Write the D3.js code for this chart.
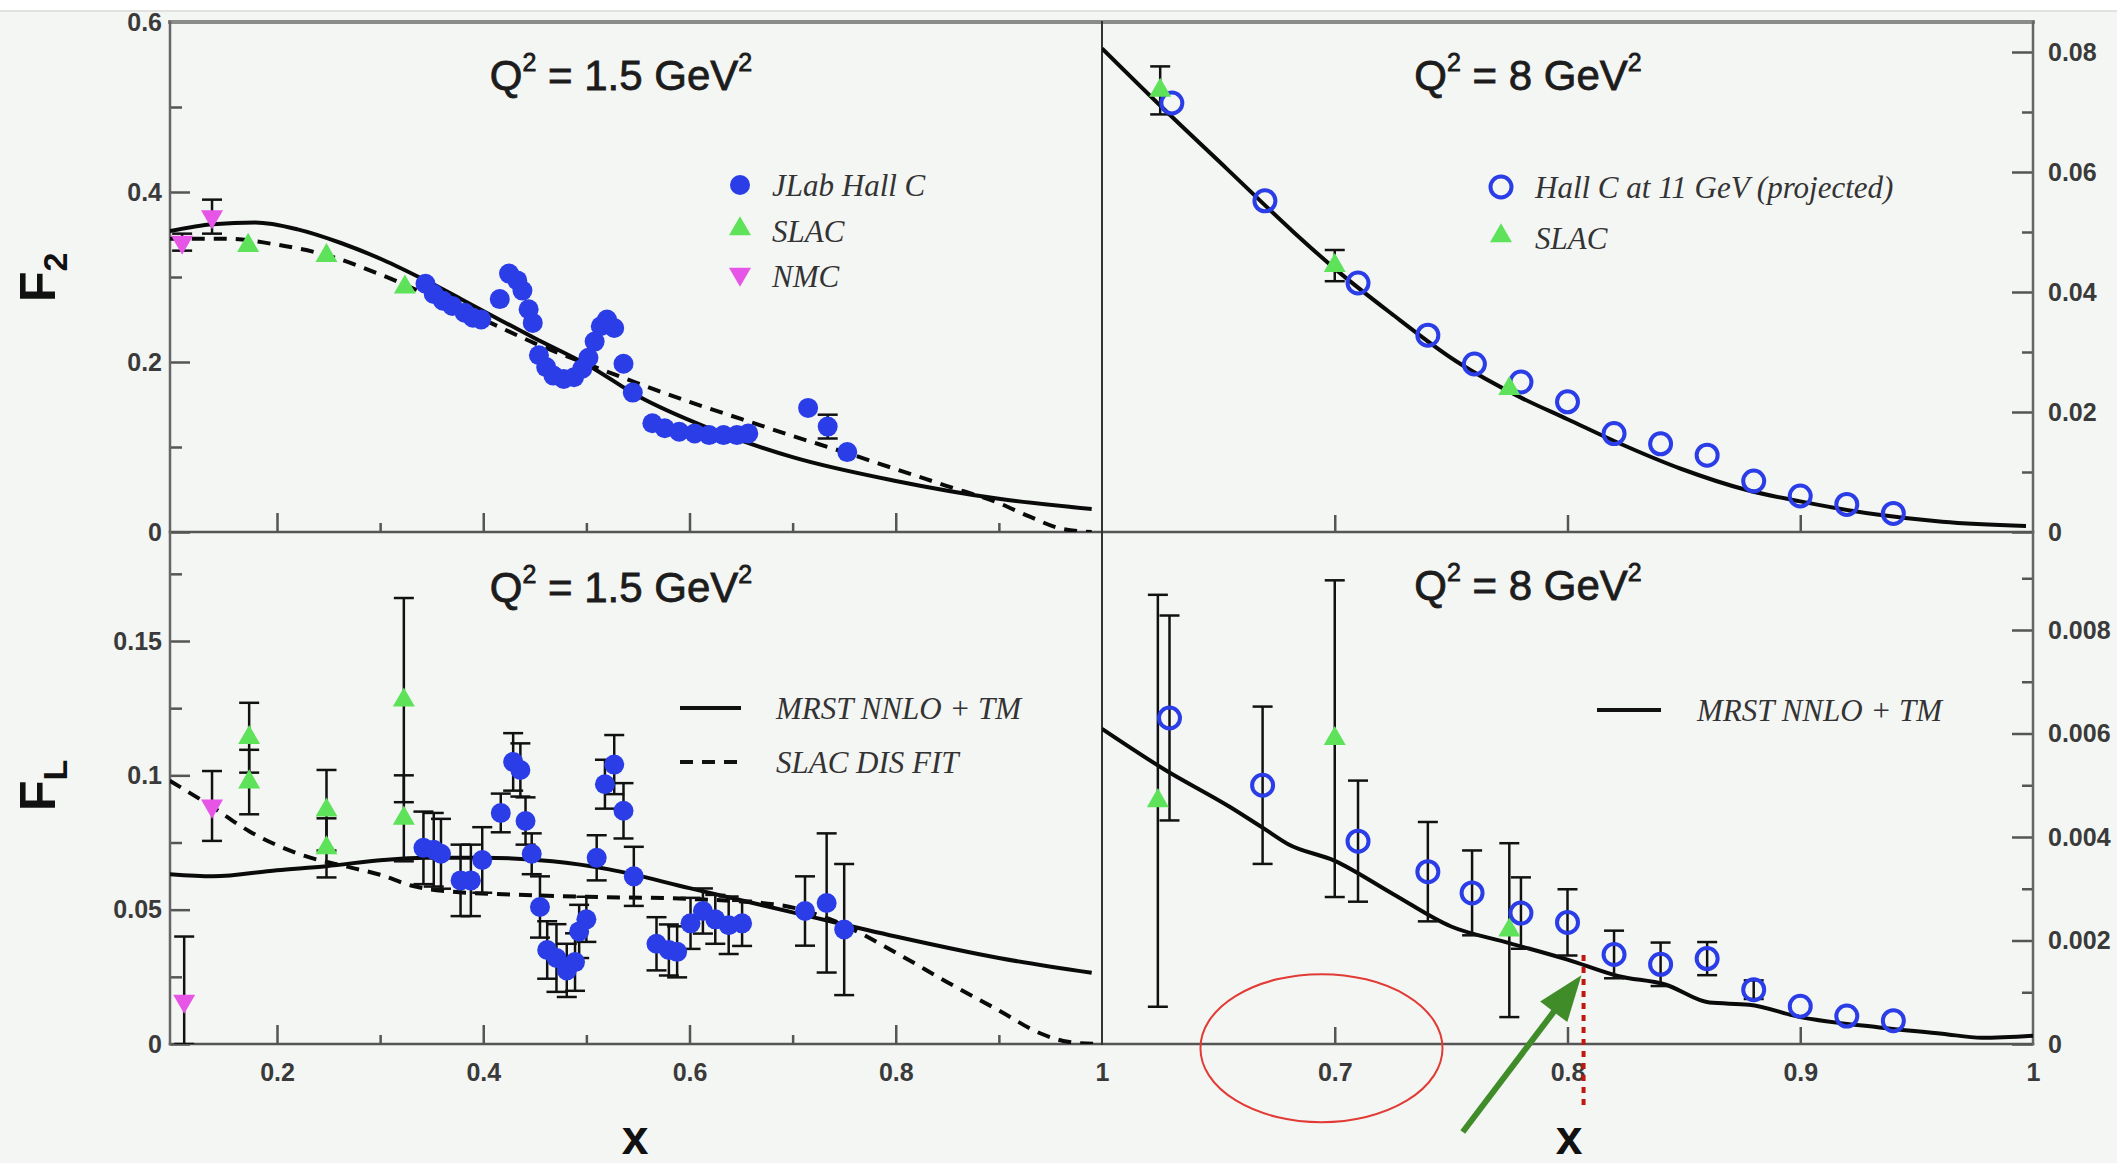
<!DOCTYPE html>
<html>
<head>
<meta charset="utf-8">
<title>F2 and FL versus x</title>
<script src="https://cdn.jsdelivr.net/npm/d3@7"></script>
<style>
  body { margin: 0; background: #f4f6f4; }
  svg { display: block; }
  .tick text { font-family: "Liberation Sans", Arial, sans-serif; font-weight: bold; font-size: 25px; fill: #3a3a3a; }
  .tick line { stroke: #555; stroke-width: 2.5; }
  .legend { font-family: "Liberation Serif", "Times New Roman", serif; font-style: italic; font-size: 31px; fill: #333; }
  .title { font-family: "Liberation Sans", Arial, sans-serif; font-size: 42px; fill: #1c1c1c; stroke: #1c1c1c; stroke-width: 0.8; }
  .axis-title { font-family: "Liberation Sans", Arial, sans-serif; font-weight: bold; fill: #111; }
</style>
</head>
<body>
<div id="chart"></div>
<script>
// ---- data: [x, value, error] ----
// F2, Q2 = 1.5 GeV2
const nmcF2 = [[0.108, 0.341, 0.010], [0.137, 0.371, 0.020]];
const slacF2lo = [[0.172, 0.337, 0], [0.248, 0.325, 0], [0.324, 0.288, 0]];
const jlabF2 = [
  [0.344, 0.292], [0.352, 0.280], [0.361, 0.272], [0.370, 0.266], [0.382, 0.258], [0.390, 0.252],
  [0.398, 0.250], [0.416, 0.274], [0.425, 0.304], [0.433, 0.296], [0.438, 0.284], [0.444, 0.262],
  [0.448, 0.246], [0.454, 0.208], [0.461, 0.194], [0.468, 0.184], [0.478, 0.180], [0.488, 0.182],
  [0.496, 0.192], [0.502, 0.205], [0.508, 0.224], [0.514, 0.242], [0.520, 0.250], [0.527, 0.240],
  [0.536, 0.198], [0.545, 0.164], [0.564, 0.128], [0.576, 0.122], [0.590, 0.118], [0.605, 0.116],
  [0.619, 0.114], [0.633, 0.114], [0.646, 0.114], [0.657, 0.116], [0.715, 0.146], [0.734, 0.124, 0.014],
  [0.753, 0.094]
];
const mrstF2lo = [[0.096, 0.354], [0.138, 0.362], [0.179, 0.364], [0.22, 0.356], [0.262, 0.340], [0.303, 0.320],
  [0.344, 0.296], [0.4, 0.260], [0.45, 0.228], [0.502, 0.196], [0.55, 0.160], [0.619, 0.122], [0.7, 0.088],
  [0.8, 0.060], [0.9, 0.039], [0.99, 0.027]];
const slacFitF2lo = [[0.096, 0.345], [0.15, 0.345], [0.2, 0.338], [0.25, 0.325], [0.3, 0.303], [0.35, 0.277],
  [0.4, 0.250], [0.45, 0.222], [0.5, 0.198], [0.55, 0.175], [0.6, 0.153], [0.65, 0.133], [0.7, 0.113],
  [0.75, 0.094], [0.8, 0.074], [0.85, 0.054], [0.9, 0.034], [0.93, 0.018], [0.96, 0.004], [0.99, 0.0]];

// F2, Q2 = 8 GeV2
const hallF2 = [[0.630, 0.0715], [0.670, 0.0552], [0.710, 0.0415], [0.740, 0.0328], [0.760, 0.0280],
  [0.780, 0.0250], [0.800, 0.0217], [0.820, 0.0164], [0.840, 0.0147], [0.860, 0.0128], [0.880, 0.0085],
  [0.900, 0.0060], [0.920, 0.0046], [0.940, 0.0031]];
const slacF2hi = [[0.625, 0.0736, 0.004], [0.700, 0.0444, 0.0026], [0.775, 0.0239, 0]];
const mrstF2hi = [[0.6, 0.0806], [0.626, 0.0707], [0.654, 0.0604], [0.682, 0.0501], [0.70, 0.0439],
  [0.724, 0.0365], [0.752, 0.0285], [0.78, 0.0224], [0.80, 0.0188], [0.821, 0.0150], [0.849, 0.0105],
  [0.877, 0.0070], [0.9, 0.0051], [0.933, 0.0029], [0.961, 0.0017], [0.997, 0.0010]];

// FL, Q2 = 1.5 GeV2
const nmcFL = [[0.110, 0.016, 0.024], [0.137, 0.0886, 0.013]];
const slacFLlo = [[0.173, 0.114, 0.013], [0.173, 0.0975, 0.012], [0.248, 0.087, 0.015], [0.248, 0.073, 0.011],
  [0.323, 0.128, 0.038], [0.323, 0.084, 0.016]];
const jlabFL = [
  [0.342, 0.0730, 0.0135], [0.352, 0.0723, 0.0137], [0.359, 0.0708, 0.0130], [0.378, 0.0609, 0.0133],
  [0.388, 0.0609, 0.0133], [0.399, 0.0685, 0.0122], [0.417, 0.0860, 0.0072], [0.429, 0.1050, 0.0107],
  [0.436, 0.1020, 0.0099], [0.441, 0.0830, 0.0088], [0.447, 0.0708, 0.0076], [0.455, 0.0510, 0.0114],
  [0.462, 0.0350, 0.0107], [0.471, 0.0320, 0.0126], [0.481, 0.0274, 0.0099], [0.489, 0.0305, 0.0107],
  [0.493, 0.0419, 0.0099], [0.500, 0.0464, 0.0084], [0.510, 0.0693, 0.0084], [0.518, 0.0967, 0.0091],
  [0.527, 0.1040, 0.0110], [0.536, 0.0868, 0.0103], [0.546, 0.0624, 0.0110], [0.568, 0.0373, 0.0099],
  [0.580, 0.0350, 0.0095], [0.588, 0.0343, 0.0095], [0.601, 0.0449, 0.0095], [0.613, 0.0495, 0.0084],
  [0.625, 0.0464, 0.0091], [0.638, 0.0442, 0.0107], [0.651, 0.0449, 0.0084], [0.712, 0.0495, 0.0129],
  [0.733, 0.0525, 0.0259], [0.750, 0.0426, 0.0244]
];
const mrstFLlo = [[0.096, 0.0632], [0.138, 0.0624], [0.2, 0.0647], [0.248, 0.0662], [0.303, 0.0685],
  [0.344, 0.0693], [0.4, 0.0693], [0.467, 0.0680], [0.522, 0.0650], [0.6, 0.0580], [0.7, 0.0490],
  [0.8, 0.0400], [0.9, 0.0320], [0.99, 0.0265]];
const slacFitFLlo = [[0.096, 0.098], [0.137, 0.0883], [0.173, 0.0792], [0.227, 0.070], [0.268, 0.066],
  [0.3, 0.063], [0.33, 0.059], [0.36, 0.057], [0.43, 0.0556], [0.5, 0.0548], [0.6, 0.0540], [0.686, 0.0518],
  [0.741, 0.0457], [0.8, 0.0340], [0.85, 0.0230], [0.9, 0.0125], [0.94, 0.0040], [0.967, 0.0008], [0.995, 0.0]];

// FL, Q2 = 8 GeV2
const hallFL = [[0.629, 0.0063, 0.00198], [0.669, 0.0050, 0.00152], [0.710, 0.00392, 0.00117],
  [0.740, 0.00333, 0.00096], [0.759, 0.00292, 0.00082], [0.780, 0.00253, 0.00069], [0.800, 0.00235, 0.00064],
  [0.820, 0.00173, 0.00046], [0.840, 0.00154, 0.00042], [0.860, 0.00165, 0.00032], [0.880, 0.00105, 0.00018],
  [0.900, 0.00073, 0], [0.920, 0.00054, 0], [0.940, 0.00045, 0]];
const slacFLhi = [[0.624, 0.0047, 0.00398], [0.700, 0.0059, 0.00306], [0.775, 0.0022, 0.00168]];
const mrstFLhi = [[0.6, 0.00609], [0.627, 0.0053], [0.655, 0.00458], [0.669, 0.00418], [0.68, 0.00386],
  [0.7, 0.00354], [0.725, 0.0029], [0.75, 0.00227], [0.775, 0.00195], [0.8, 0.00163], [0.822, 0.00131],
  [0.842, 0.00115], [0.861, 0.0008], [0.878, 0.00076], [0.9, 0.00052], [0.934, 0.00032], [0.961, 0.0002],
  [0.978, 0.00012], [1.0, 0.00016]];

// tick values
const xTicksLeft = [0.2, 0.4, 0.6, 0.8, 1];
const xMinorLeft = [0.3, 0.5, 0.7, 0.9];
const xTicksRight = [0.7, 0.8, 0.9, 1];
const yTicksF2lo = [0, 0.2, 0.4, 0.6];
const yMinorF2lo = [0.1, 0.3, 0.5];
const yTicksFLlo = [0, 0.05, 0.1, 0.15];
const yMinorFLlo = [0.025, 0.075, 0.125, 0.175];
const yTicksF2hi = [0, 0.02, 0.04, 0.06, 0.08];
const yMinorF2hi = [0.01, 0.03, 0.05, 0.07];
const yTicksFLhi = [0, 0.002, 0.004, 0.006, 0.008];
const yMinorFLhi = [0.001, 0.003, 0.005, 0.007, 0.009];

const W = 2117, H = 1163;
const xLeft = 170, xMid = 1102, xRight = 2033, yTop = 22, yMid = 532, yBottom = 1044;
const BLUE = "#2a3de6", GREEN = "#5ee25a", MAGENTA = "#e655e6";

const svg = d3.select("#chart").append("svg").attr("width", W).attr("height", H);
svg.append("rect").attr("width", W).attr("height", H).attr("fill", "#f4f6f4");
svg.append("rect").attr("width", W).attr("height", 10).attr("fill", "#ffffff");
svg.append("line").attr("x1", 0).attr("x2", W).attr("y1", 11).attr("y2", 11)
  .attr("stroke", "#dfe2df").attr("stroke-width", 2);

const xL = d3.scaleLinear().domain([0.2, 1]).range([277, xMid]);
const xR = d3.scaleLinear().domain([0.6, 1]).range([xMid, xRight]);
const yF2lo = d3.scaleLinear().domain([0, 0.6]).range([yMid, yTop]);
const yF2hi = d3.scaleLinear().domain([0, 0.08]).range([yMid, 52]);
const yFLlo = d3.scaleLinear().domain([0, 0.15]).range([yBottom, 641]);
const yFLhi = d3.scaleLinear().domain([0, 0.008]).range([yBottom, 630]);

const fmt = d3.format("~g");
const clean = g => g.select(".domain").remove();

// ---- axes ----
function axis(gen, tx, ty) {
  return svg.append("g").attr("transform", `translate(${tx},${ty})`).call(gen).call(clean);
}
// left y axes, ticks inward
axis(d3.axisLeft(yF2lo).tickValues(yTicksF2lo).tickSize(-20).tickPadding(8).tickFormat(fmt), xLeft, 0);
axis(d3.axisLeft(yF2lo).tickValues(yMinorF2lo).tickSize(-12).tickFormat(""), xLeft, 0);
axis(d3.axisLeft(yFLlo).tickValues(yTicksFLlo).tickSize(-20).tickPadding(8).tickFormat(fmt), xLeft, 0);
axis(d3.axisLeft(yFLlo).tickValues(yMinorFLlo).tickSize(-12).tickFormat(""), xLeft, 0);
// right y axes
axis(d3.axisRight(yF2hi).tickValues(yTicksF2hi).tickSize(-21).tickPadding(15).tickFormat(fmt), xRight, 0);
axis(d3.axisRight(yF2hi).tickValues(yMinorF2hi).tickSize(-11).tickFormat(""), xRight, 0);
axis(d3.axisRight(yFLhi).tickValues(yTicksFLhi).tickSize(-21).tickPadding(15).tickFormat(fmt), xRight, 0);
axis(d3.axisRight(yFLhi).tickValues(yMinorFLhi).tickSize(-11).tickFormat(""), xRight, 0);
// x axes: middle line (no labels) and bottom line
axis(d3.axisBottom(xL).tickValues([0.2, 0.4, 0.6, 0.8]).tickSize(-19).tickFormat(""), 0, yMid);
axis(d3.axisBottom(xL).tickValues(xMinorLeft).tickSize(-9).tickFormat(""), 0, yMid);
axis(d3.axisBottom(xR).tickValues([0.7, 0.8, 0.9]).tickSize(-17).tickFormat(""), 0, yMid);
const bl = axis(d3.axisBottom(xL).tickValues(xTicksLeft).tickSize(-19).tickPadding(19).tickFormat(fmt), 0, yBottom);
axis(d3.axisBottom(xL).tickValues(xMinorLeft).tickSize(-9).tickFormat(""), 0, yBottom);
const br = axis(d3.axisBottom(xR).tickValues(xTicksRight).tickSize(-17).tickPadding(19).tickFormat(fmt), 0, yBottom);
bl.selectAll(".tick").filter(d => d === 1).select("line").remove();
br.selectAll(".tick").filter(d => d === 1).select("line").remove();

// ---- frame ----
const frame = svg.append("g").attr("stroke-linecap", "square");
frame.append("line").attr("x1", xLeft).attr("x2", xRight).attr("y1", yTop).attr("y2", yTop)
  .attr("stroke", "#8a8c8a").attr("stroke-width", 4);
[[xLeft, yMid, xRight, yMid], [xLeft, yBottom, xRight, yBottom]].forEach(d =>
  frame.append("line").attr("x1", d[0]).attr("y1", d[1]).attr("x2", d[2]).attr("y2", d[3])
    .attr("stroke", "#555").attr("stroke-width", 2.5));
[xLeft, xMid, xRight].forEach(x =>
  frame.append("line").attr("x1", x).attr("x2", x).attr("y1", yTop).attr("y2", yBottom)
    .attr("stroke", x === xMid ? "#333" : "#666").attr("stroke-width", x === xMid ? 2 : 2.5));

// ---- clip regions ----
const defs = svg.append("defs");
function clip(id, x0, y0, x1, y1) {
  defs.append("clipPath").attr("id", id).append("rect")
    .attr("x", x0).attr("y", y0).attr("width", x1 - x0).attr("height", y1 - y0);
  return svg.append("g").attr("clip-path", `url(#${id})`);
}
const pTL = clip("cTL", xLeft, yTop, xMid, yMid);
const pTR = clip("cTR", xMid, yTop, xRight, yMid);
const pBL = clip("cBL", xLeft, yMid, xMid, yBottom);
const pBR = clip("cBR", xMid, yMid, xRight, yBottom);

function curve(g, data, xs, ys, dashed) {
  g.append("path").datum(data)
    .attr("d", d3.line().x(d => xs(d[0])).y(d => ys(d[1])).curve(d3.curveMonotoneX))
    .attr("fill", "none").attr("stroke", "#0a0a0a").attr("stroke-width", 4)
    .attr("stroke-dasharray", dashed ? "13,9" : null);
}
function errors(g, data, xs, ys) {
  const e = g.append("g").attr("stroke", "#111").attr("stroke-width", 2.5);
  data.filter(d => d[2] > 0).forEach(d => {
    const x = xs(d[0]), y1 = ys(Math.max(0, d[1] - d[2])), y2 = ys(d[1] + d[2]);
    e.append("line").attr("x1", x).attr("x2", x).attr("y1", y1).attr("y2", y2);
    e.append("line").attr("x1", x - 10).attr("x2", x + 10).attr("y1", y1).attr("y2", y1);
    e.append("line").attr("x1", x - 10).attr("x2", x + 10).attr("y1", y2).attr("y2", y2);
  });
}
const tri = d3.symbol().type(d3.symbolTriangle).size(210);
function triangles(g, data, xs, ys, color, down) {
  g.append("g").selectAll("path").data(data).join("path")
    .attr("d", tri)
    .attr("transform", d => `translate(${xs(d[0])},${ys(d[1])})${down ? " rotate(180)" : ""}`)
    .attr("fill", color);
}
function dots(g, data, xs, ys) {
  g.append("g").selectAll("circle").data(data).join("circle")
    .attr("cx", d => xs(d[0])).attr("cy", d => ys(d[1])).attr("r", 10).attr("fill", BLUE);
}
function rings(g, data, xs, ys) {
  g.append("g").selectAll("circle").data(data).join("circle")
    .attr("cx", d => xs(d[0])).attr("cy", d => ys(d[1])).attr("r", 10.5)
    .attr("fill", "none").attr("stroke", BLUE).attr("stroke-width", 4);
}

// top left: F2 at 1.5 GeV2
curve(pTL, slacFitF2lo, xL, yF2lo, true);
curve(pTL, mrstF2lo, xL, yF2lo, false);
errors(pTL, nmcF2, xL, yF2lo);
errors(pTL, jlabF2, xL, yF2lo);
dots(pTL, jlabF2, xL, yF2lo);
triangles(pTL, slacF2lo, xL, yF2lo, GREEN, false);
triangles(pTL, nmcF2, xL, yF2lo, MAGENTA, true);

// top right: F2 at 8 GeV2
curve(pTR, mrstF2hi, xR, yF2hi, false);
errors(pTR, slacF2hi, xR, yF2hi);
rings(pTR, hallF2, xR, yF2hi);
triangles(pTR, slacF2hi, xR, yF2hi, GREEN, false);

// bottom left: FL at 1.5 GeV2
curve(pBL, slacFitFLlo, xL, yFLlo, true);
curve(pBL, mrstFLlo, xL, yFLlo, false);
errors(pBL, nmcFL, xL, yFLlo);
errors(pBL, slacFLlo, xL, yFLlo);
errors(pBL, jlabFL, xL, yFLlo);
dots(pBL, jlabFL, xL, yFLlo);
triangles(pBL, slacFLlo, xL, yFLlo, GREEN, false);
triangles(pBL, nmcFL, xL, yFLlo, MAGENTA, true);

// bottom right: FL at 8 GeV2
curve(pBR, mrstFLhi, xR, yFLhi, false);
errors(pBR, slacFLhi, xR, yFLhi);
errors(pBR, hallFL, xR, yFLhi);
rings(pBR, hallFL, xR, yFLhi);
triangles(pBR, slacFLhi, xR, yFLhi, GREEN, false);

// ---- titles ----
function qTitle(x, y, val) {
  const t = svg.append("text").attr("class", "title").attr("x", x).attr("y", y).attr("text-anchor", "middle");
  t.append("tspan").text("Q");
  t.append("tspan").attr("font-size", 25).attr("dy", -19).text("2");
  t.append("tspan").attr("dy", 19).text(` = ${val} GeV`);
  t.append("tspan").attr("font-size", 25).attr("dy", -19).text("2");
}
qTitle(621, 90, "1.5");
qTitle(1528, 90, "8");
qTitle(621, 602, "1.5");
qTitle(1528, 600, "8");

// ---- legends ----
function legText(x, y, s) {
  svg.append("text").attr("class", "legend").attr("x", x).attr("y", y).attr("dy", "0.35em").text(s);
}
svg.append("circle").attr("cx", 740).attr("cy", 185).attr("r", 10).attr("fill", BLUE);
legText(772, 185, "JLab Hall C");
svg.append("path").attr("d", tri).attr("transform", "translate(740,229)").attr("fill", GREEN);
legText(772, 231, "SLAC");
svg.append("path").attr("d", tri).attr("transform", "translate(740,274) rotate(180)").attr("fill", MAGENTA);
legText(772, 276, "NMC");

svg.append("circle").attr("cx", 1501).attr("cy", 187).attr("r", 10.5)
  .attr("fill", "none").attr("stroke", BLUE).attr("stroke-width", 4);
legText(1535, 187, "Hall C at 11 GeV (projected)");
svg.append("path").attr("d", tri).attr("transform", "translate(1501,236)").attr("fill", GREEN);
legText(1535, 238, "SLAC");

svg.append("line").attr("x1", 680).attr("x2", 741).attr("y1", 708).attr("y2", 708)
  .attr("stroke", "#111").attr("stroke-width", 4);
legText(776, 708, "MRST NNLO + TM");
svg.append("line").attr("x1", 680).attr("x2", 741).attr("y1", 762).attr("y2", 762)
  .attr("stroke", "#111").attr("stroke-width", 4).attr("stroke-dasharray", "13,9");
legText(776, 762, "SLAC DIS FIT");

svg.append("line").attr("x1", 1597).attr("x2", 1661).attr("y1", 710).attr("y2", 710)
  .attr("stroke", "#111").attr("stroke-width", 4);
legText(1697, 710, "MRST NNLO + TM");

// ---- axis titles ----
function yTitle(x, y, sub) {
  const t = svg.append("text").attr("class", "axis-title").attr("font-size", 50)
    .attr("transform", `translate(${x},${y}) rotate(-90)`);
  t.append("tspan").text("F");
  t.append("tspan").attr("font-size", 34).attr("dy", 12).text(sub);
}
yTitle(55, 302, "2");
yTitle(55, 811, "L");
[[635, "x"], [1569, "x"]].forEach(d =>
  svg.append("text").attr("class", "axis-title").attr("font-size", 48)
    .attr("x", d[0]).attr("y", 1154).attr("text-anchor", "middle").text(d[1]));

// ---- hand-drawn annotations ----
const ann = svg.append("g");
ann.append("ellipse").attr("cx", xR(0.6943)).attr("cy", yFLhi(-0.00008))
  .attr("rx", xR(0.6943 + 0.052) - xR(0.6943)).attr("ry", yFLhi(0) - yFLhi(0.00143))
  .attr("fill", "none").attr("stroke", "#e23b35").attr("stroke-width", 2);
const a0 = [xR(0.755), yFLhi(-0.0017)], a1 = [xR(0.806), yFLhi(0.00133)];
const adx = a1[0] - a0[0], ady = a1[1] - a0[1], alen = Math.hypot(adx, ady);
const ux = adx / alen, uy = ady / alen, head = 46, half = 17;
const bx = a1[0] - ux * head, by = a1[1] - uy * head;
ann.append("line").attr("x1", a0[0]).attr("y1", a0[1]).attr("x2", bx + ux * 4).attr("y2", by + uy * 4)
  .attr("stroke", "#3f8c28").attr("stroke-width", 6);
ann.append("polygon")
  .attr("points", [[a1[0], a1[1]], [bx - uy * half, by + ux * half], [bx + uy * half, by - ux * half]].join(" "))
  .attr("fill", "#3f8c28");
ann.append("line").attr("x1", xR(0.8069)).attr("x2", xR(0.8069))
  .attr("y1", yFLhi(0.00172)).attr("y2", yFLhi(-0.0012))
  .attr("stroke", "#c0180e").attr("stroke-width", 4).attr("stroke-dasharray", "6,6");
</script>
</body>
</html>
